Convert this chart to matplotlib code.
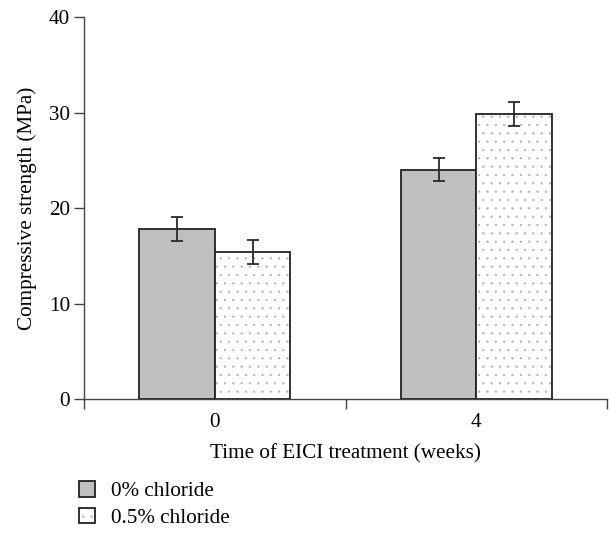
import numpy as np
import matplotlib.pyplot as plt
import matplotlib as mpl

# data
weeks = ['0', '4']
series = ['0% chloride', '0.5% chloride']
strength_0 = [17.8, 24.0]
strength_05 = [15.4, 29.85]
err_0 = [1.25, 1.2]
err_05 = [1.25, 1.25]

plt.rcParams['font.family'] = ['Liberation Serif', 'DejaVu Serif']
plt.rcParams['hatch.linewidth'] = 0.3

fs = 15.2
fig = plt.figure(figsize=(6.09, 5.33), dpi=100)
ax = fig.add_axes([0.138, 0.2514, 0.859, 0.7166])

x = np.arange(len(weeks)) + 0.5
w = 0.289
b1 = ax.bar(x - w / 2, strength_0, w, color='#c0c0c0', edgecolor='#222222',
            linewidth=1.3)
# dotted fill in light grey, outline drawn on top separately
b2 = ax.bar(x + w / 2, strength_05, w, color='white', edgecolor='#a8a8a8',
            linewidth=0, hatch='..')
b2o = ax.bar(x + w / 2, strength_05, w, fill=False, edgecolor='#222222',
             linewidth=1.3)
ax.errorbar(x - w / 2, strength_0, yerr=err_0, fmt='none', ecolor='#2a2a2a',
            elinewidth=1.3, capsize=4.5, capthick=1.3)
ax.errorbar(x + w / 2, strength_05, yerr=err_05, fmt='none', ecolor='#2a2a2a',
            elinewidth=1.3, capsize=4.5, capthick=1.3)

ax.set_xlim(0, 2)
ax.set_ylim(0, 40)
ax.set_yticks([0, 10, 20, 30, 40])
ax.set_xticks([0, 1, 2])
ax.set_xticklabels([])
ax.set_xticks(x, minor=True)
ax.set_xticklabels(weeks, minor=True)
ax.tick_params(axis='x', which='minor', length=0, pad=10, labelsize=fs)
ax.tick_params(axis='x', which='major', length=7, width=1, color='#444444')
ax.tick_params(axis='y', length=7, width=1, color='#444444', labelsize=fs, pad=3)
for s in ['top', 'right']:
    ax.spines[s].set_visible(False)
for s in ['left', 'bottom']:
    ax.spines[s].set_color('#444444')
    ax.spines[s].set_linewidth(1.0)

ax.set_ylabel('Compressive strength (MPa)', fontsize=fs, labelpad=9)
ax.set_xlabel('Time of EICI treatment (weeks)', fontsize=fs, labelpad=9)

fig.legend(handles=[b1, (b2, b2o)], labels=series, loc='upper left',
           bbox_to_anchor=(0.112, 0.117),
           frameon=False, fontsize=fs, handlelength=0.75, handleheight=0.75,
           handletextpad=0.8, labelspacing=0.3, borderpad=0)

fig.savefig('out.png', dpi=100)
